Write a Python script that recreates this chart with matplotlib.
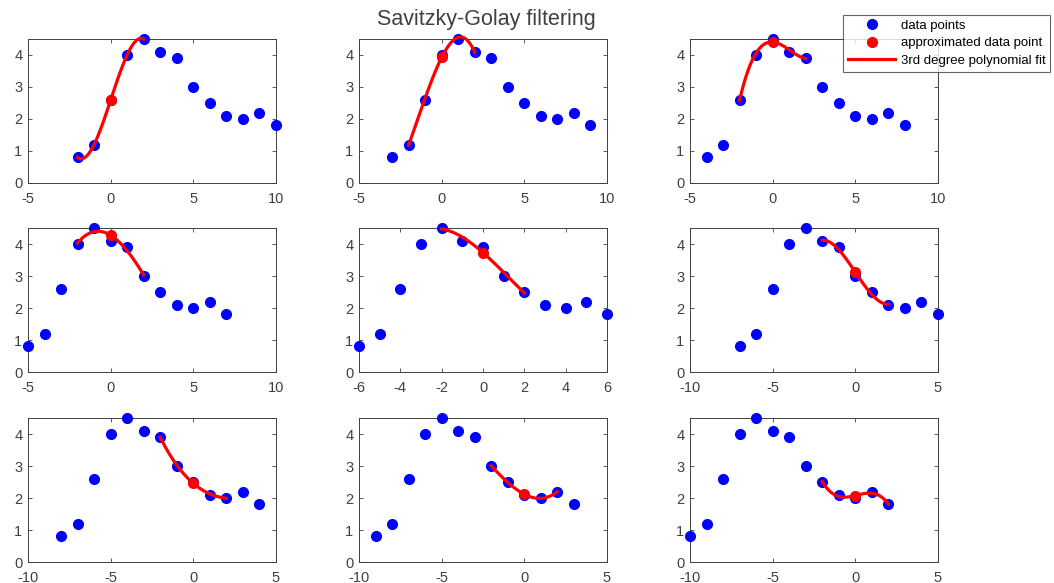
#!/usr/bin/env python3

import matplotlib.pyplot as plt
import numpy as np

# Messwerte
y_data = [0.8, 1.2, 2.6, 4.0, 4.5, 4.1, 3.9, 3.0, 2.5, 2.1, 2.0, 2.2, 1.8]
# Index des Mittelpunkts je Teilbild
centers = [2, 3, 4, 5, 6, 7, 8, 9, 10]
# x-Grenzen je Teilbild
xlims = [(-5, 10), (-5, 10), (-5, 10), (-5, 10), (-6, 6), (-10, 5), (-10, 5), (-10, 5), (-10, 5)]
xticks = [[-5, 0, 5, 10], [-5, 0, 5, 10], [-5, 0, 5, 10], [-5, 0, 5, 10],
          [-6, -4, -2, 0, 2, 4, 6], [-10, -5, 0, 5], [-10, -5, 0, 5], [-10, -5, 0, 5], [-10, -5, 0, 5]]
half_window = 2
poly_order = 3

plt.rcParams['font.family'] = ['Liberation Sans', 'DejaVu Sans']
plt.rcParams['axes.unicode_minus'] = False
text_col = '#404040'

fig = plt.figure(figsize=(10.54, 5.83), dpi=100)
lefts = [28 / 1054, 359 / 1054, 690 / 1054]
bottoms = [1 - 183 / 583, 1 - 372 / 583, 1 - 562 / 583]
w = 248 / 1054
h = 144 / 583

y = np.array(y_data)
for k, c in enumerate(centers):
    r, col = divmod(k, 3)
    ax = fig.add_axes([lefts[col], bottoms[r], w, h])
    x = np.arange(len(y)) - c
    win = (x >= -half_window) & (x <= half_window)
    p = np.polyfit(x[win], y[win], poly_order)  # kubischer Fit im Fenster
    xf = np.linspace(-half_window, half_window, 100)

    h1, = ax.plot(x, y, 'o', color='blue', markersize=7, clip_on=False, zorder=3,
                  label='data points')
    h3, = ax.plot(xf, np.polyval(p, xf), '-', color='red', linewidth=2.3, clip_on=False,
                  zorder=4, label='3rd degree polynomial fit')
    h2, = ax.plot([0], [np.polyval(p, 0)], 'o', color='red', markersize=7, clip_on=False,
                  zorder=5, label='approximated data point')

    ax.set_xlim(*xlims[k])
    ax.set_ylim(0, 4.5)
    ax.set_xticks(xticks[k])
    ax.set_yticks([0, 1, 2, 3, 4])
    ax.tick_params(direction='in', top=True, right=True, length=3, width=0.6,
                   labelsize=10.5, colors=text_col)
    ax.tick_params(axis='x', pad=6.5)
    ax.tick_params(axis='y', pad=4)
    for s in ax.spines.values():
        s.set_linewidth(0.7)
        s.set_color(text_col)

fig.text(486 / 1054, 1 - 20 / 583, 'Savitzky-Golay filtering',
         ha='center', va='center', fontsize=15.5, color=text_col)

leg = fig.legend([h1, h2, h3], ['data points', 'approximated data point', '3rd degree polynomial fit'],
                 loc='upper right', bbox_to_anchor=(1050 / 1054, 1 - 15 / 583),
                 fontsize=9.5, frameon=True, fancybox=False, edgecolor=text_col,
                 borderpad=0.35, labelspacing=0.4, handlelength=3.6, handletextpad=0.4,
                 borderaxespad=0)
leg.get_frame().set_linewidth(0.8)
for t in leg.get_texts():
    t.set_color('black')

plt.savefig('out.png', dpi=100)
